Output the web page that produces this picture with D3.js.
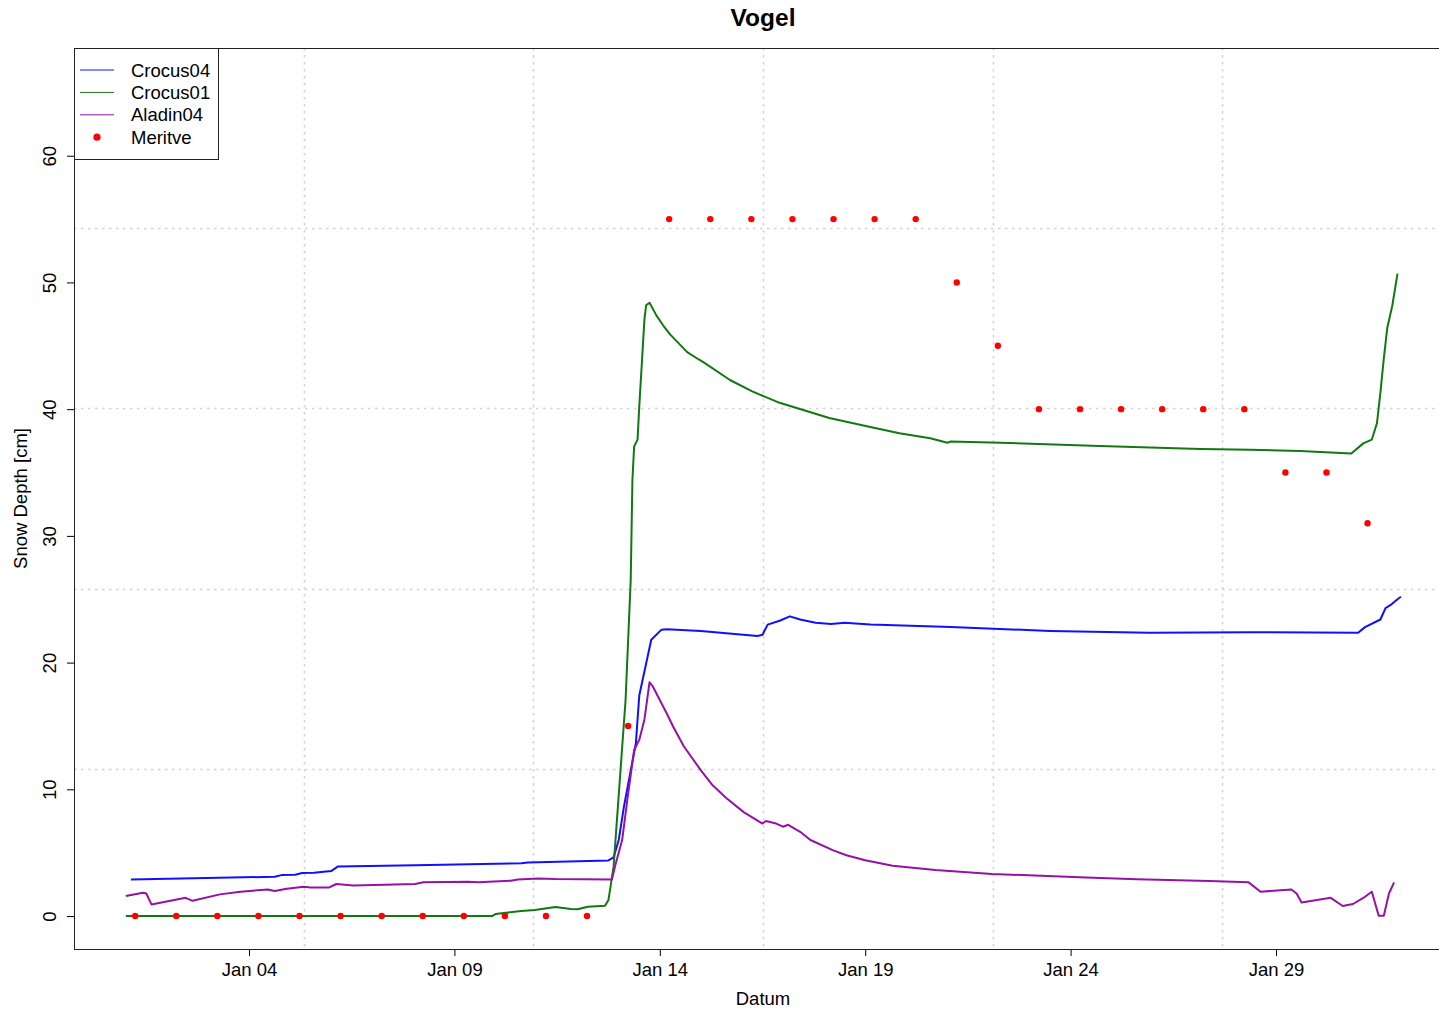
<!DOCTYPE html>
<html>
<head>
<meta charset="utf-8">
<script src="https://cdn.jsdelivr.net/npm/d3@7"></script>
<style>
  body { margin: 0; background: #fff; }
  svg text { font-family: "Liberation Sans", Arial, sans-serif; fill: #000; }
</style>
</head>
<body>
<div id="chart"></div>
<script>
// hours since Jan 01 00:00 and snow depth (cm)
var crocus04Hours = [3,87,91,99,103,110,120,124,169,231,235,282,285,288,291,295,298,300,307,313,316,336,369,372,375,382,388,394,403,412,420,435,482,540,598,657,720,724,733,736,739,743,745];
var crocus04Depth = [2.89,3.1,3.23,3.26,3.39,3.42,3.55,3.92,4.0,4.16,4.23,4.39,4.63,6.0,8.6,11.5,13.6,17.4,21.8,22.6,22.63,22.5,22.1,22.2,23.0,23.3,23.65,23.4,23.15,23.05,23.15,23.0,22.8,22.5,22.35,22.4,22.35,22.8,23.4,24.3,24.55,25.0,25.2];

var crocus01Hours = [0,214,216,231,239,251,260,264,270,280,282,285,292,295,296,297,299,300,303,304,306,310,314,318,328,335,337,353,366,382,411,435,452,470,480,482,511,569,628,657,686,716,723,728,731,733,735,737,740,743];
var crocus01Depth = [0,0,0.16,0.39,0.47,0.71,0.55,0.53,0.73,0.81,1.26,3.9,17.05,26.5,34.4,37.05,37.6,40.2,47.05,48.2,48.4,47.4,46.6,45.9,44.5,43.9,43.75,42.3,41.4,40.5,39.3,38.6,38.1,37.7,37.35,37.45,37.35,37.1,36.85,36.8,36.7,36.5,37.3,37.6,38.9,41.3,44.0,46.4,48.2,50.7];

var aladin04Hours = [0,10,12,15,35,39,55,67,83,87,94,104,108,119,123,133,169,174,200,206,225,229,241,251,284,286,290,293,297,300,303,306,308,316,320,326,336,343,351,361,372,374,380,384,387,394,400,413,421,432,448,473,506,561,591,633,656,663,681,684,687,704,711,717,724,728,732,735,738,741];
var aladin04Depth = [1.58,1.84,1.78,0.92,1.44,1.2,1.71,1.92,2.1,1.97,2.15,2.31,2.26,2.26,2.53,2.42,2.53,2.66,2.71,2.66,2.79,2.89,2.97,2.92,2.89,4.0,6.0,9.15,13.1,13.9,15.5,18.45,18.1,16.0,14.9,13.4,11.5,10.3,9.3,8.2,7.3,7.5,7.3,7.05,7.2,6.65,6.0,5.2,4.8,4.4,3.97,3.63,3.32,3.05,2.9,2.76,2.66,1.92,2.1,1.78,1.07,1.44,0.79,0.95,1.52,1.92,0.02,0.02,1.78,2.66];

// daily measurements, Jan 01 .. Jan 31
var meritveDays = [1,2,3,4,5,6,7,8,9,10,11,12,13,14,15,16,17,18,19,20,21,22,23,24,25,26,27,28,29,30,31];
var meritveDepth = [0,0,0,0,0,0,0,0,0,0,0,0,15,55,55,55,55,55,55,55,50,45,40,40,40,40,40,40,35,35,31];

var xTickDays = [4,9,14,19,24,29];
var yTicks = [0,10,20,30,40,50,60];

var seriesNames = ["Crocus04","Crocus01","Aladin04","Meritve"];
var seriesColors = ["#1010ff","#127812","#9412a6","#ff0000"];

function draw_vogel(){
    var W = 1439, H = 1010;
    var left = 74, right = 1452, top = 48, bottom = 949;

    var base = Date.UTC(2021,0,1);
    var hourDate = function(h){ return new Date(base + h*3600e3); };
    var dayDate = function(d, h){ return new Date(base + ((d-1)*24 + (h||0))*3600e3); };

    var x0 = Date.UTC(2020,11,30,17,45), x1 = Date.UTC(2021,1,2,6,50);
    var xScale = d3.scaleUtc()
        .domain([new Date(x0), new Date(x1)])
        .range([left, right]);
    var yScale = d3.scaleLinear()
        .domain([-2.6, 68.5])
        .range([bottom, top]);

    var svg = d3.select("#chart").append("svg")
        .attr("width", W)
        .attr("height", H);

    // dotted grid, equal divisions of the plot region
    var gx = d3.range(1,6).map(function(k){ return new Date(x0 + k*(x1-x0)/6); });
    var yd = yScale.domain();
    var gy = d3.range(1,5).map(function(k){ return yd[0] + k*(yd[1]-yd[0])/5; });
    var grid = svg.append("g")
        .attr("stroke", "#d3d3d3")
        .attr("stroke-width", 1.6)
        .attr("stroke-dasharray", "2.5,4.5");
    grid.selectAll(".gx").data(gx).enter().append("line")
        .attr("x1", function(d){ return Math.round(xScale(d)) + 0.5; })
        .attr("x2", function(d){ return Math.round(xScale(d)) + 0.5; })
        .attr("y1", top).attr("y2", bottom);
    grid.selectAll(".gy").data(gy).enter().append("line")
        .attr("x1", left).attr("x2", right)
        .attr("y1", function(d){ return Math.round(yScale(d)) + 0.5; })
        .attr("y2", function(d){ return Math.round(yScale(d)) + 0.5; });

    // lines
    var line = d3.line()
        .x(function(d){ return xScale(d[0]); })
        .y(function(d){ return yScale(d[1]); });

    var lines = [
        [crocus04Hours, crocus04Depth, seriesColors[0]],
        [crocus01Hours, crocus01Depth, seriesColors[1]],
        [aladin04Hours, aladin04Depth, seriesColors[2]]
    ];
    lines.forEach(function(s){
        var pts = s[0].map(function(h, i){ return [hourDate(h), s[1][i]]; });
        svg.append("path")
            .attr("d", line(pts))
            .attr("fill", "none")
            .attr("stroke", s[2])
            .attr("stroke-width", 2)
            .attr("stroke-linejoin", "round");
    });

    svg.append("g").selectAll("circle")
        .data(meritveDays)
        .enter().append("circle")
        .attr("cx", function(d){ return xScale(dayDate(d, 5.5)); })
        .attr("cy", function(d, i){ return yScale(meritveDepth[i]); })
        .attr("r", 3.2)
        .attr("fill", seriesColors[3]);

    // axes
    var xAxis = svg.append("g")
        .attr("transform", "translate(0," + bottom + ")")
        .call(d3.axisBottom(xScale)
            .tickValues(xTickDays.map(function(d){ return dayDate(d); }))
            .tickFormat(d3.utcFormat("%b %d"))
            .tickSize(7)
            .tickSizeOuter(0));
    xAxis.select(".domain").remove();
    xAxis.selectAll("text")
        .attr("y", 27).attr("dy", 0)
        .style("font-size", "18.5px")
        .style("font-family", "Liberation Sans, Arial, sans-serif");

    var yAxis = svg.append("g")
        .attr("transform", "translate(" + left + ",0)")
        .call(d3.axisLeft(yScale).tickValues(yTicks).tickSize(7).tickSizeOuter(0));
    yAxis.select(".domain").remove();
    yAxis.selectAll("text")
        .attr("x", 0).attr("y", 0).attr("dy", 0)
        .attr("text-anchor", "middle")
        .attr("transform", "translate(-18,0) rotate(-90)")
        .style("font-size", "18.5px")
        .style("font-family", "Liberation Sans, Arial, sans-serif");

    // box
    svg.append("rect")
        .attr("x", left + 0.5).attr("y", top + 0.5)
        .attr("width", right - left).attr("height", bottom - top)
        .attr("fill", "none")
        .attr("stroke", "#222")
        .attr("stroke-width", 1);

    // titles
    svg.append("text")
        .attr("x", (left + right)/2).attr("y", 26)
        .attr("text-anchor", "middle")
        .attr("font-size", "24.5px")
        .attr("font-weight", "bold")
        .text("Vogel");
    svg.append("text")
        .attr("x", (left + right)/2).attr("y", 1005)
        .attr("text-anchor", "middle")
        .attr("font-size", "18.5px")
        .text("Datum");
    svg.append("text")
        .attr("transform", "translate(27," + (top + bottom)/2 + ") rotate(-90)")
        .attr("text-anchor", "middle")
        .attr("font-size", "18.5px")
        .text("Snow Depth [cm]");

    // legend
    var lg = svg.append("g");
    lg.append("rect")
        .attr("x", left + 0.5).attr("y", top + 0.5)
        .attr("width", 144).attr("height", 111)
        .attr("fill", "#fff")
        .attr("stroke", "#222");
    seriesNames.forEach(function(name, i){
        var yy = 70 + i*22.4;
        if (i < 3) {
            lg.append("line")
                .attr("x1", 80).attr("x2", 114)
                .attr("y1", yy).attr("y2", yy)
                .attr("stroke", seriesColors[i])
                .attr("stroke-width", 1);
        } else {
            lg.append("circle")
                .attr("cx", 97).attr("cy", yy)
                .attr("r", 3.6)
                .attr("fill", seriesColors[i]);
        }
        lg.append("text")
            .attr("x", 131).attr("y", yy + 6.5)
            .attr("font-size", "18.5px")
            .text(name);
    });
}

draw_vogel();
</script>
</body>
</html>
